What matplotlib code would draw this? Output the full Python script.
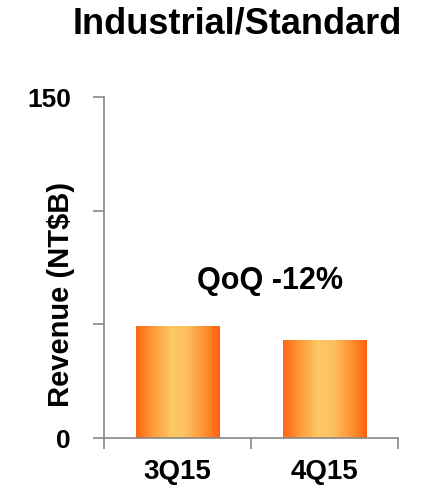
import matplotlib.pyplot as plt
import numpy as np
from matplotlib.colors import LinearSegmentedColormap

plt.rcParams['font.family'] = ['Liberation Sans', 'DejaVu Sans']

quarters = ["3Q15", "4Q15"]
revenue = [49, 43]
yticks = [0, 50, 100, 150]
ytick_labels = ["0", "", "", "150"]
title = "Industrial/Standard"
note = "QoQ -12%"

fig = plt.figure(figsize=(4.25, 4.87), dpi=100)
ax = fig.add_axes([0.245, 0.1006, 0.691, 0.7])

# horizontal orange -> yellow -> orange gradient for the bars
cmap = LinearSegmentedColormap.from_list(
    "bar", [(0, "#ff6512"), (0.2, "#ff9a3a"), (0.42, "#fdc865"),
            (0.6, "#fdc060"), (0.85, "#ff8a2a"), (1, "#ff6010")])
grad = np.linspace(0, 1, 256).reshape(1, -1)
width = 0.57
for i, v in enumerate(revenue):
    ax.imshow(grad, cmap=cmap, aspect="auto",
              extent=[i - width / 2, i + width / 2, 0, v], zorder=2)

ax.set_xlim(-0.5, len(quarters) - 0.5)
ax.set_ylim(0, 150)
ax.set_yticks(yticks)
ax.set_yticklabels(ytick_labels, fontsize=19, fontweight="bold")
ax.set_xticks(range(len(quarters)))
ax.set_xticklabels(quarters, fontsize=20, fontweight="bold")
ax.tick_params(axis="x", length=0, pad=15)
ax.set_xticks([-0.5, 0.5, 1.5], minor=True)
ax.tick_params(axis="x", which="minor", length=8, color="#888888", width=1.2)
ax.tick_params(axis="y", length=8, color="#888888", width=1.2, pad=16)

for s in ["top", "right"]:
    ax.spines[s].set_visible(False)
for s in ["left", "bottom"]:
    ax.spines[s].set_color("#888888")
    ax.spines[s].set_linewidth(1.2)

ax.set_ylabel("Revenue (NT$B)", fontsize=21, fontweight="bold")
ax.yaxis.set_label_coords(-0.099, 0.422)
ax.text(0.63, 69, note, ha="center", va="center", fontsize=22, fontweight="bold")
fig.text(0.558, 0.95, title, ha="center", va="center", fontsize=26, fontweight="bold")

fig.savefig("out.png", dpi=100)
